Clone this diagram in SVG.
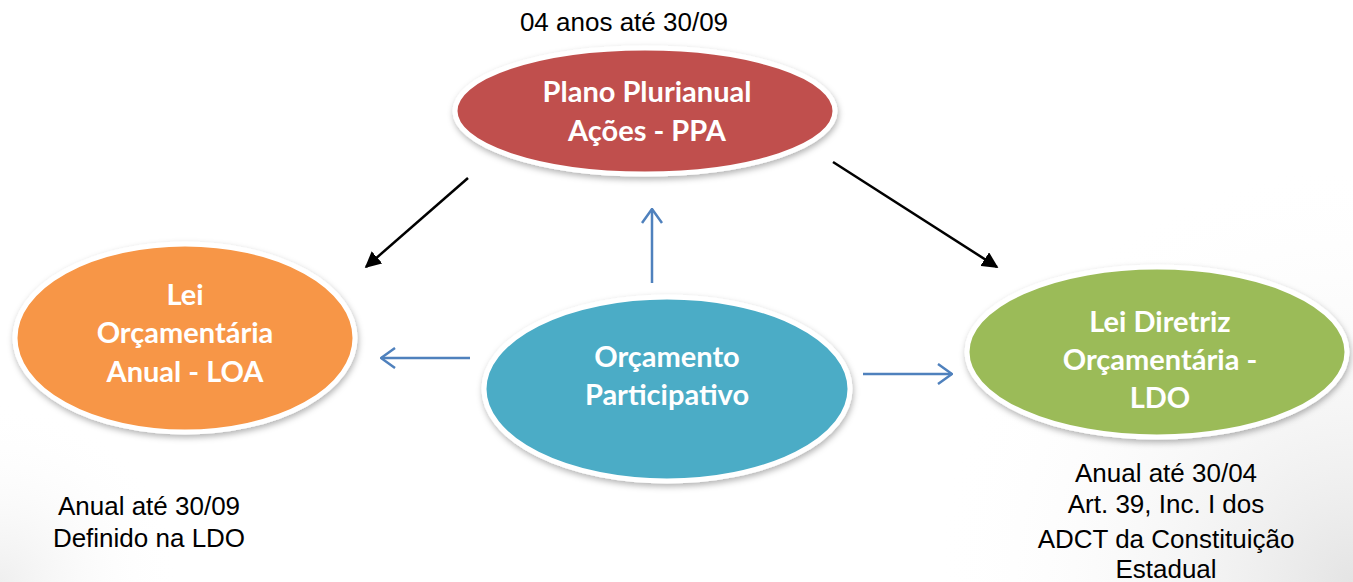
<svg xmlns="http://www.w3.org/2000/svg" width="1353" height="582" viewBox="0 0 1353 582">
  <defs>
    <radialGradient id="bgR" cx="1353" cy="582" r="420" gradientUnits="userSpaceOnUse">
      <stop offset="0" stop-color="#e4e4e4"/>
      <stop offset="1" stop-color="#ffffff" stop-opacity="0"/>
    </radialGradient>
    <radialGradient id="bgL" cx="0" cy="582" r="180" gradientUnits="userSpaceOnUse">
      <stop offset="0" stop-color="#efefef"/>
      <stop offset="1" stop-color="#ffffff" stop-opacity="0"/>
    </radialGradient>
    <filter id="shadow" x="-10%" y="-15%" width="120%" height="135%">
      <feDropShadow dx="1" dy="3" stdDeviation="3" flood-color="#000" flood-opacity="0.3"/>
    </filter>
    <marker id="blackArrow" viewBox="0 0 10 10" refX="9" refY="5" markerWidth="6.5" markerHeight="6.5" markerUnits="strokeWidth" orient="auto">
      <path d="M0,0 L10,5 L0,10 z" fill="#000"/>
    </marker>
    <marker id="blueArrow" viewBox="0 0 16 22" refX="15" refY="11" markerWidth="16" markerHeight="22" markerUnits="userSpaceOnUse" orient="auto">
      <path d="M1,1 L15,11 L1,21" fill="none" stroke="#4F81BD" stroke-width="2.5"/>
    </marker>
    <style>
      .node ellipse { stroke: #ffffff; stroke-width: 5; filter: url(#shadow); }
      .ntext { font-family: Lato, "Open Sans", "Liberation Sans", sans-serif; font-weight: bold; font-size: 29px; fill: #ffffff; text-anchor: middle; }
      .label { font-family: "Liberation Sans", Arial, sans-serif; font-size: 26px; fill: #000000; text-anchor: middle; }
      .blk { stroke: #000; stroke-width: 2.5; fill: none; marker-end: url(#blackArrow); }
      .blu { stroke: #4F81BD; stroke-width: 2.5; fill: none; marker-end: url(#blueArrow); }
    </style>
  </defs>
  <rect x="0" y="0" width="1353" height="582" fill="#ffffff"/>
  <rect x="0" y="0" width="1353" height="582" fill="url(#bgR)"/>
  <rect x="0" y="0" width="1353" height="582" fill="url(#bgL)"/>

  <g id="connectors">
    <line class="blk" x1="468" y1="178" x2="366" y2="267"/>
    <line class="blk" x1="833" y1="162" x2="997" y2="267"/>
    <line class="blu" x1="652" y1="283" x2="652" y2="209"/>
    <line class="blu" x1="470" y1="358" x2="381" y2="358"/>
    <line class="blu" x1="863" y1="374" x2="952" y2="374"/>
  </g>

  <g id="ppa" class="node">
    <ellipse cx="645" cy="111" rx="190" ry="63" fill="#C0504D"/>
    <text class="ntext" x="647" y="102">Plano Plurianual</text>
    <text class="ntext" x="647" y="141">Ações - PPA</text>
  </g>

  <g id="loa" class="node">
    <ellipse cx="185" cy="338" rx="170" ry="94" fill="#F79646"/>
    <text class="ntext" x="185" y="305">Lei</text>
    <text class="ntext" x="185" y="343">Orçamentária</text>
    <text class="ntext" x="185" y="382">Anual - LOA</text>
  </g>

  <g id="op" class="node">
    <ellipse cx="667" cy="389" rx="183" ry="92" fill="#4BACC6"/>
    <text class="ntext" x="667" y="367">Orçamento</text>
    <text class="ntext" x="667" y="405">Participativo</text>
  </g>

  <g id="ldo" class="node">
    <ellipse cx="1157" cy="352" rx="190" ry="85" fill="#9BBB59"/>
    <text class="ntext" x="1160" y="332">Lei Diretriz</text>
    <text class="ntext" x="1160" y="370">Orçamentária -</text>
    <text class="ntext" x="1160" y="408">LDO</text>
  </g>

  <g id="labels">
    <text class="label" x="624" y="31">04 anos até 30/09</text>
    <text class="label" x="149" y="515">Anual até 30/09</text>
    <text class="label" x="149" y="547">Definido na LDO</text>
    <text class="label" x="1166" y="482">Anual até 30/04</text>
    <text class="label" x="1166" y="513">Art. 39, Inc. I dos</text>
    <text class="label" x="1166" y="548">ADCT da Constituição</text>
    <text class="label" x="1166" y="578">Estadual</text>
  </g>
</svg>
